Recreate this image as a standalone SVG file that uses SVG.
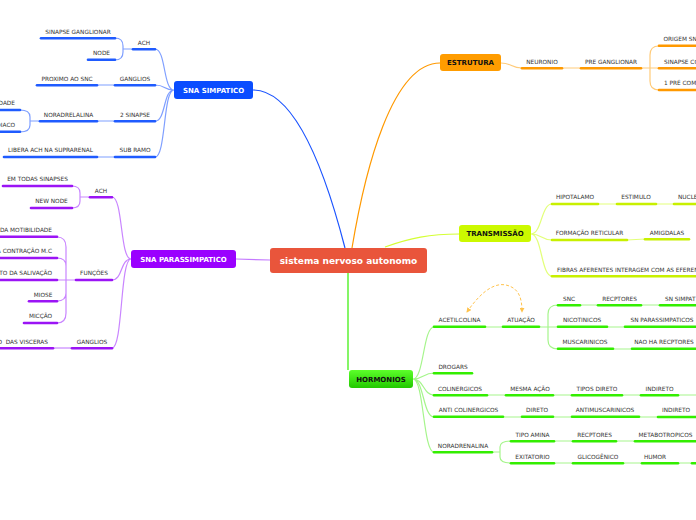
<svg xmlns="http://www.w3.org/2000/svg" width="696" height="520" viewBox="0 0 696 520">
<style>
.l{font-family:"DejaVu Sans",Verdana,sans-serif;font-size:5.8px;fill:#333;text-anchor:middle}
.s{text-anchor:start}.e{text-anchor:end}
.n{font-family:"DejaVu Sans",Verdana,sans-serif;font-weight:bold;font-size:7px;text-anchor:middle}
.w{fill:#fff}.k{fill:#111}
.bar{fill:none;stroke-width:2.6;stroke-linecap:round}
.bB{stroke:#1f5bff}.bP{stroke:#9b14f5}.bO{stroke:#ff9900}.bY{stroke:#c8f000}.bG{stroke:#33ee00}
.c{fill:none;stroke-width:1.2}
.cB{stroke:#7f9fff}.cP{stroke:#c985ff}.cO{stroke:#ffcb7a}.cY{stroke:#e3ff7a}.cG{stroke:#a6f58c}
</style>
<defs>
<linearGradient id="gG" x1="0" y1="0" x2="0" y2="1"><stop offset="0" stop-color="#5cff2a"/><stop offset="1" stop-color="#22c800"/></linearGradient>
<marker id="ah" viewBox="0 0 6 6" refX="5" refY="3" markerWidth="5" markerHeight="5" orient="auto-start-reverse"><path d="M0,0 L6,3 L0,6 z" fill="#ffc34d"/></marker>
</defs>
<rect width="696" height="520" fill="#fff"/>
<g id="connectors">
<path class="c" stroke="#1a53ff" stroke-width="1.5" d="M253,90 C300,90 330,190 345,248"/>
<path class="c" stroke="#ff9900" stroke-width="1.5" d="M352,248 C365,170 392,63 440,63"/>
<path class="c" stroke="#d4ff33" stroke-width="1.5" d="M385,247 C410,238 430,234 459,234"/>
<path class="c" stroke="#c479ff" stroke-width="1.5" d="M236,259 L270,260"/>
<path class="c" stroke="#33ee00" stroke-width="1.5" d="M348,273 L348,370"/>
<!-- simpatico -->
<path class="c cB" d="M174,90 C163,90 166,49 155,49 M174,90 C163,90 166,85 155,85 M174,90 C163,90 166,121 155,121 M174,90 C163,90 166,157 155,157"/>
<path class="c cB" d="M133,49 L123,49 M115,38 Q123,38 123,46 L123,52 Q123,60 115,60"/>
<path class="c cB" d="M115,85 L97,85 M115,121 L97,121 M115,157 L97,157"/>
<path class="c cB" d="M40,121 L30,121 M20,110 Q30,110 30,117 L30,125 Q30,132 20,132"/>
<!-- parassimpatico -->
<path class="c cP" d="M131,259 C120,259 123,197 112,197 M131,259 C120,259 123,280 112,280 M131,259 C120,259 123,348 112,348"/>
<path class="c cP" d="M90,197 L80,197 M72,186 Q80,186 80,193 L80,201 Q80,208 72,208"/>
<path class="c cP" d="M76,280 L57,280 M57,237 Q66,237 66,247 L66,313 Q66,323 57,323 M57,258 Q66,258 66,266 M57,301 Q66,301 66,293"/>
<path class="c cP" d="M72,348 L53,348"/>
<!-- estrutura -->
<path class="c cO" d="M501,63 C512,63 511,68 522,68 M562,68 L581,68 M641,68 L650,68 M659,46 Q650,46 650,55 L650,81 Q650,90 659,90 M650,68 L659,68"/>
<!-- transmissao -->
<path class="c cY" d="M531,234 C542,234 541,204 552,204 M531,234 C542,234 541,240 552,240 M531,234 C542,234 541,276 552,276"/>
<path class="c cY" d="M598,204 L617,204 M656,204 L674,204 M627,240 L645,239"/>
<!-- hormonios -->
<path class="c cG" d="M413,379 C424,379 423,327 434,327 M413,379 C424,379 423,373 434,373 M413,379 C424,379 423,395 434,395 M413,379 C424,379 423,417 434,417 M413,379 C424,379 423,452 434,452"/>
<path class="c cG" d="M485,327 L503,327 M539,327 L558,327 M558,305 Q548,305 548,314 L548,340 Q548,349 558,349"/>
<path class="c cG" d="M580,305 L598,305 M641,305 L660,305 M607,327 L625,327 M613,349 L632,349"/>
<path class="c cG" d="M487,395 L506,395 M553,395 L572,395 M622,395 L641,395 M678,395 L696,395"/>
<path class="c cG" d="M503,417 L522,417 M553,417 L572,417 M639,417 L658,417"/>
<path class="c cG" d="M492,452 L500,452 M511,441 Q500,441 500,447 L500,457 Q500,463 511,463"/>
<path class="c cG" d="M554,441 L573,441 M616,441 L635,441 M554,463 L573,463 M623,463 L642,463 M678,463 L692,463"/>
<path fill="none" stroke="#ffc34d" stroke-width="1" stroke-dasharray="3,2" marker-start="url(#ah)" marker-end="url(#ah)" d="M467,312 C478,296 492,282 506,285 C519,288 522,298 522,312"/>
</g>
<g id="n-center"><rect x="270" y="248" width="157" height="25" rx="3" fill="#e9553b"/><text class="n w" x="348.5" y="264" style="font-size:9px">sistema nervoso autonomo</text></g>
<g id="n-simpatico"><rect x="174" y="81" width="79" height="18" rx="3" fill="#0a4dff"/><text class="n w" x="213.5" y="92.6">SNA SIMPATICO</text></g>
<g id="n-estrutura"><rect x="440" y="54" width="61" height="17" rx="3" fill="#ff9c00"/><text class="n k" x="470.5" y="65">ESTRUTURA</text></g>
<g id="n-transmissao"><rect x="459" y="225" width="72" height="17" rx="3" fill="#ccf900"/><text class="n k" x="495" y="236.2">TRANSMISSÃO</text></g>
<g id="n-parassimpatico"><rect x="131" y="250" width="105" height="18" rx="3" fill="#9a00ff"/><text class="n w" x="183.5" y="261.6">SNA PARASSIMPATICO</text></g>
<g id="n-hormonios"><rect x="349" y="370" width="64" height="18" rx="3" fill="url(#gG)"/><text class="n k" x="381" y="381.6">HORMONIOS</text></g>
<!-- simpatico children -->
<g id="s-ach"><path class="bar bB" d="M133,49.3 H155"/><text class="l" x="144" y="44.5">ACH</text></g>
<g id="s-sinapse"><path class="bar bB" d="M41,38.3 H115"/><text class="l" x="78" y="33.5">SINAPSE GANGLIONAR</text></g>
<g id="s-node"><path class="bar bB" d="M88,59.7 H115"/><text class="l" x="101.5" y="55">NODE</text></g>
<g id="s-ganglios"><path class="bar bB" d="M115,85.3 H155"/><text class="l" x="135" y="80.5">GANGLIOS</text></g>
<g id="s-proximo"><path class="bar bB" d="M37,85.3 H97"/><text class="l" x="67" y="80.5">PROXIMO AO SNC</text></g>
<g id="s-2sinapse"><path class="bar bB" d="M115,121.3 H155"/><text class="l" x="135" y="116.5">2 SINAPSE</text></g>
<g id="s-noradrelalina"><path class="bar bB" d="M40,121.3 H97"/><text class="l" x="68.5" y="116.5">NORADRELALINA</text></g>
<g id="s-dade"><path class="bar bB" d="M-3,110 H20"/><text class="l e" x="15" y="105">DADE</text></g>
<g id="s-diaco"><path class="bar bB" d="M-3,131.7 H20"/><text class="l e" x="15" y="127">DIACO</text></g>
<g id="s-subramo"><path class="bar bB" d="M115,157 H155"/><text class="l" x="135" y="152.2">SUB RAMO</text></g>
<g id="s-libera"><path class="bar bB" d="M4,157 H97"/><text class="l" x="50.5" y="152.2">LIBERA ACH NA SUPRARENAL</text></g>
<!-- parassimpatico children -->
<g id="p-ach"><path class="bar bP" d="M90,197.3 H112"/><text class="l" x="101" y="192.5">ACH</text></g>
<g id="p-emtodas"><path class="bar bP" d="M3,186 H72"/><text class="l" x="37.5" y="181.2">EM TODAS SINAPSES</text></g>
<g id="p-newnode"><path class="bar bP" d="M31,208 H72"/><text class="l" x="51.5" y="203.2">NEW NODE</text></g>
<g id="p-funcoes"><path class="bar bP" d="M76,280 H112"/><text class="l" x="94" y="275.2">FUNÇÕES</text></g>
<g id="p-motib"><path class="bar bP" d="M-3,236.7 H57"/><text class="l e" x="52" y="232">DA MOTIBILIDADE</text></g>
<g id="p-contracao"><path class="bar bP" d="M-3,258 H57"/><text class="l e" x="52" y="253.2">A CONTRAÇÃO M.C</text></g>
<g id="p-salivacao"><path class="bar bP" d="M-3,280 H57"/><text class="l e" x="52" y="275.2">TO DA SALIVAÇÃO</text></g>
<g id="p-miose"><path class="bar bP" d="M29,301.3 H57"/><text class="l" x="43" y="296.5">MIOSE</text></g>
<g id="p-miccao"><path class="bar bP" d="M24,323 H57"/><text class="l" x="40.5" y="318.2">MICÇÃO</text></g>
<g id="p-ganglios"><path class="bar bP" d="M72,348.3 H112"/><text class="l" x="92" y="343.5">GANGLIOS</text></g>
<g id="p-visceras"><path class="bar bP" d="M-3,348.3 H53"/><text class="l e" x="48" y="343.5" style="white-space:pre">O  DAS VISCERAS</text></g>
<!-- estrutura children -->
<g id="e-neuronio"><path class="bar bO" d="M522,68.3 H562"/><text class="l" x="542" y="63.5">NEURONIO</text></g>
<g id="e-pregang"><path class="bar bO" d="M581,68.3 H641"/><text class="l" x="611" y="63.5">PRE GANGLIONAR</text></g>
<g id="e-origem"><path class="bar bO" d="M659,45.7 H699"/><text class="l s" x="663.5" y="41">ORIGEM SN</text></g>
<g id="e-sinapse"><path class="bar bO" d="M659,68.3 H699"/><text class="l s" x="664" y="63.5">SINAPSE CO</text></g>
<g id="e-1pre"><path class="bar bO" d="M659,90 H699"/><text class="l s" x="664" y="85.2">1 PRÉ COM</text></g>
<!-- transmissao children -->
<g id="t-hipotalamo"><path class="bar bY" d="M552,204 H598"/><text class="l" x="575" y="199.2">HIPOTALAMO</text></g>
<g id="t-estimulo"><path class="bar bY" d="M617,204 H656"/><text class="l" x="636" y="199.2">ESTIMULO</text></g>
<g id="t-nucle"><path class="bar bY" d="M674,204 H699"/><text class="l s" x="678" y="199.2">NUCLE</text></g>
<g id="t-formacao"><path class="bar bY" d="M552,240 H627"/><text class="l" x="589.5" y="235.2">FORMAÇÃO RETICULAR</text></g>
<g id="t-amigdalas"><path class="bar bY" d="M645,239.3 H689"/><text class="l" x="667" y="234.5">AMIGDALAS</text></g>
<g id="t-fibras"><path class="bar bY" d="M552,276.3 H699"/><text class="l s" x="557" y="271.5">FIBRAS AFERENTES INTERAGEM COM AS EFERENT</text></g>
<!-- hormonios children -->
<g id="h-acetil"><path class="bar bG" d="M434,326.7 H485"/><text class="l" x="459.5" y="322">ACETILCOLINA</text></g>
<g id="h-atuacao"><path class="bar bG" d="M503,326.7 H539"/><text class="l" x="521" y="322">ATUAÇÃO</text></g>
<g id="h-snc"><path class="bar bG" d="M558,305.3 H580"/><text class="l" x="569" y="300.5">SNC</text></g>
<g id="h-recp1"><path class="bar bG" d="M598,305.3 H641"/><text class="l" x="619.5" y="300.5">RECPTORES</text></g>
<g id="h-snsimp"><path class="bar bG" d="M660,305.3 H699"/><text class="l s" x="665" y="300.5">SN SIMPAT</text></g>
<g id="h-nicot"><path class="bar bG" d="M558,326.7 H607"/><text class="l" x="582" y="322">NICOTINICOS</text></g>
<g id="h-snpara"><path class="bar bG" d="M625,326.7 H699"/><text class="l" x="662" y="322">SN PARASSIMPATICOS</text></g>
<g id="h-musc"><path class="bar bG" d="M558,348.7 H613"/><text class="l" x="585" y="344">MUSCARINICOS</text></g>
<g id="h-naoha"><path class="bar bG" d="M632,348.7 H699"/><text class="l" x="664" y="344">NAO HA RECPTORES</text></g>
<g id="h-drogars"><path class="bar bG" d="M434,373.3 H472"/><text class="l" x="453" y="368.5">DROGARS</text></g>
<g id="h-colin"><path class="bar bG" d="M434,395.3 H487"/><text class="l" x="460" y="390.5">COLINERGICOS</text></g>
<g id="h-mesma"><path class="bar bG" d="M506,395.3 H553"/><text class="l" x="530" y="390.5">MESMA AÇÃO</text></g>
<g id="h-tipos"><path class="bar bG" d="M572,395.3 H622"/><text class="l" x="597" y="390.5">TIPOS DIRETO</text></g>
<g id="h-indireto1"><path class="bar bG" d="M641,395.3 H678"/><text class="l" x="659.5" y="390.5">INDIRETO</text></g>
<g id="h-anticolin"><path class="bar bG" d="M434,416.7 H503"/><text class="l" x="468.5" y="412">ANTI COLINERGICOS</text></g>
<g id="h-direto"><path class="bar bG" d="M522,416.7 H553"/><text class="l" x="537" y="412">DIRETO</text></g>
<g id="h-antimusc"><path class="bar bG" d="M572,416.7 H639"/><text class="l" x="605" y="412">ANTIMUSCARINICOS</text></g>
<g id="h-indireto2"><path class="bar bG" d="M658,417 H699"/><text class="l" x="676" y="412">INDIRETO</text></g>
<g id="h-noradr"><path class="bar bG" d="M434,452.3 H492"/><text class="l" x="463" y="447.5">NORADRENALINA</text></g>
<g id="h-tipoamina"><path class="bar bG" d="M511,441.3 H554"/><text class="l" x="532.5" y="436.5">TIPO AMINA</text></g>
<g id="h-recp2"><path class="bar bG" d="M573,441.3 H616"/><text class="l" x="594.5" y="436.5">RECPTORES</text></g>
<g id="h-metab"><path class="bar bG" d="M635,441.3 H699"/><text class="l" x="665.5" y="436.5">METABOTROPICOS</text></g>
<g id="h-exit"><path class="bar bG" d="M511,463.3 H554"/><text class="l" x="532.5" y="458.5">EXITATORIO</text></g>
<g id="h-glico"><path class="bar bG" d="M573,463.3 H623"/><text class="l" x="598" y="458.5">GLICOGÊNICO</text></g>
<g id="h-humor"><path class="bar bG" d="M642,463.3 H678"/><text class="l" x="655" y="458.5">HUMOR</text></g>
<g id="h-next"><path class="bar bG" d="M692,463.3 H699"/></g>
</svg>
